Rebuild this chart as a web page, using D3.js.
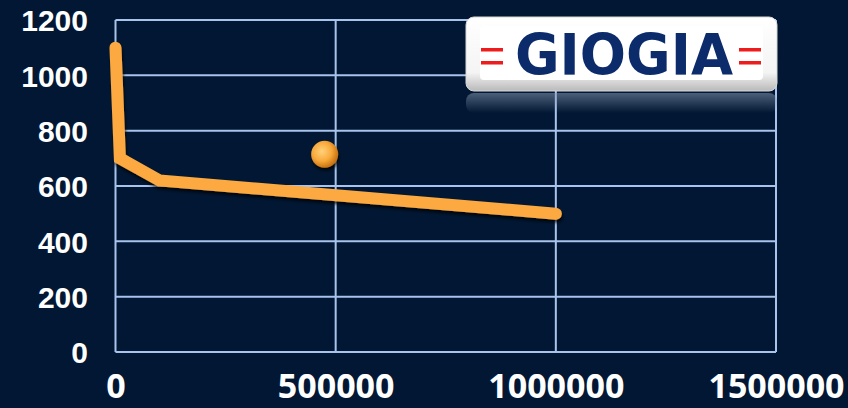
<!doctype html>
<html>
 <head>
  <meta charset='utf-8'>
  <title>chart</title>
  <style>
    html,body{margin:0;padding:0;background:#011733;}
    svg{display:block;}
    .ylab{font:bold 30px 'Liberation Sans',Arial,sans-serif;fill:#fff;}
    .xlab{font:bold 34px 'Open Sans','Liberation Sans',sans-serif;fill:#fff;}
  </style>
 </head>
 <body>
  <div id='chart'></div>
  <script src='https://cdn.jsdelivr.net/npm/d3@7/dist/d3.min.js'></script>
  <script>
   // line series (x, y)
   var lineX = [0, 10000, 100000, 1000000]
   var lineY = [1100, 700, 620, 500]
   // single marker
   var dotX = [475000]
   var dotY = [715]
   // ticks
   var xTicks = [0, 500000, 1000000, 1500000]
   var yTicks = [0, 200, 400, 600, 800, 1000, 1200]

   var W = 848, H = 408
   var m = {left:115.5, right:72, top:20, bottom:56}

   var svg = d3.select('#chart').append('svg')
       .attr('width',W).attr('height',H)

   var defs = svg.append('defs')
   var sh = defs.append('filter').attr('id','shadow')
       .attr('x','-10%').attr('y','-10%').attr('width','120%').attr('height','140%')
       sh.append('feDropShadow').attr('dx',1).attr('dy',3).attr('stdDeviation',1.5)
         .attr('flood-color','#000').attr('flood-opacity',0.7)
   var ball = defs.append('radialGradient').attr('id','ball')
       .attr('cx','40%').attr('cy','40%').attr('r','60%')
       ball.append('stop').attr('offset','0%').attr('stop-color','#ffd27a')
       ball.append('stop').attr('offset','60%').attr('stop-color','#f8a83a')
       ball.append('stop').attr('offset','100%').attr('stop-color','#c87412')
   var bevel = defs.append('linearGradient').attr('id','bevel')
       .attr('x1',0).attr('y1',0).attr('x2',0).attr('y2',1)
       bevel.append('stop').attr('offset','0%').attr('stop-color','#ffffff')
       bevel.append('stop').attr('offset','75%').attr('stop-color','#f4f4f4')
       bevel.append('stop').attr('offset','100%').attr('stop-color','#b9b9b9')
   var refl = defs.append('linearGradient').attr('id','refl')
       .attr('x1',0).attr('y1',0).attr('x2',0).attr('y2',1)
       refl.append('stop').attr('offset','0%').attr('stop-color','#8a9bb3').attr('stop-opacity',0.55)
       refl.append('stop').attr('offset','100%').attr('stop-color','#8a9bb3').attr('stop-opacity',0)

   var x = d3.scaleLinear().domain([0,1500000]).range([m.left, W-m.right])
   var y = d3.scaleLinear().domain([0,1200]).range([H-m.bottom, m.top])

   // grid
   var grid = svg.append('g').attr('stroke','#a9c4ec').attr('stroke-width',2)
   grid.selectAll('.hy').data(yTicks).enter().append('line')
       .attr('x1',x(0)).attr('x2',x(1500000))
       .attr('y1',function(d){return y(d)}).attr('y2',function(d){return y(d)})
   grid.selectAll('.vx').data(xTicks).enter().append('line')
       .attr('y1',y(0)).attr('y2',y(1200))
       .attr('x1',function(d){return x(d)}).attr('x2',function(d){return x(d)})

   // axes labels via d3 axes
   var ya = svg.append('g').attr('transform','translate(88,0)')
       .call(d3.axisLeft(y).tickValues(yTicks).tickSize(0).tickPadding(0).tickFormat(d3.format('d')))
   ya.select('.domain').remove()
   ya.selectAll('text').attr('class','ylab').attr('fill',null).attr('dy','0.36em')

   var xa = svg.append('g').attr('transform','translate(0,'+(H-m.bottom)+')')
       .call(d3.axisBottom(x).tickValues(xTicks).tickSize(0).tickPadding(0).tickFormat(d3.format('d')))
   xa.select('.domain').remove()
   xa.selectAll('text').attr('class','xlab').attr('fill',null).attr('dy',null).attr('y',46)

   // line
   var pts = lineX.map(function(v,i){return [v,lineY[i]]})
   svg.append('path').datum(pts)
      .attr('d',d3.line().x(function(d){return x(d[0])}).y(function(d){return y(d[1])}))
      .attr('fill','none').attr('stroke','#fba93f').attr('stroke-width',12)
      .attr('stroke-linecap','round').attr('stroke-linejoin','miter')
      .attr('filter','url(#shadow)')

   // marker
   svg.selectAll('.dot').data(dotX).enter().append('circle')
      .attr('cx',function(d){return x(d)}).attr('cy',function(d,i){return y(dotY[i])})
      .attr('r',13.5).attr('fill','url(#ball)').attr('filter','url(#shadow)')

   // logo
   var logo = svg.append('g').attr('transform','translate(466,17)')
   logo.append('rect').attr('x',0).attr('y',76).attr('width',311).attr('height',20)
       .attr('rx',8).attr('fill','url(#refl)')
   logo.append('rect').attr('width',311).attr('height',74).attr('rx',8)
       .attr('fill','url(#bevel)').attr('stroke','#d8d8d8').attr('stroke-width',1)
   logo.append('rect').attr('x',14).attr('y',9).attr('width',283).attr('height',54).attr('rx',4)
       .attr('fill','#ffffff')
   logo.append('text').attr('x',49).attr('y',58)
       .attr('font-family','DejaVu Sans, sans-serif').attr('font-weight','bold')
       .attr('font-size',57).attr('fill','#0b2b6b')
       .attr('textLength',218).attr('lengthAdjust','spacingAndGlyphs')
       .text('GIOGIA')
   var bars = [[15,31],[15,44],[273,31],[273,44]]
   logo.selectAll('.eq').data(bars).enter().append('rect')
       .attr('x',function(d){return d[0]}).attr('y',function(d){return d[1]})
       .attr('width',22).attr('height',3.5).attr('fill','#ee1c1c')
  </script>
 </body>
</html>
